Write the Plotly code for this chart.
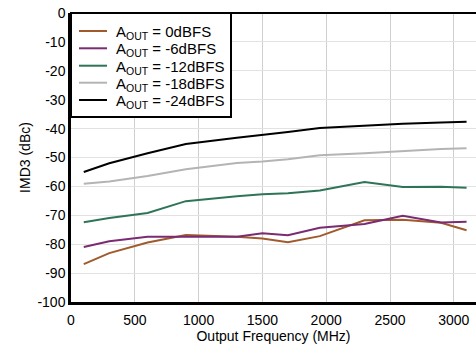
import plotly.graph_objects as go

freq_mhz = [100, 300, 600, 900, 1300, 1500, 1700, 1950, 2300, 2600, 2900, 3100]

series_names = [
    "A<sub>OUT</sub> = 0dBFS",
    "A<sub>OUT</sub> = -6dBFS",
    "A<sub>OUT</sub> = -12dBFS",
    "A<sub>OUT</sub> = -18dBFS",
    "A<sub>OUT</sub> = -24dBFS",
]
imd3_0dbfs = [-86.9, -83.1, -79.4, -76.8, -77.4, -78.0, -79.3, -77.2, -71.7, -71.5, -72.6, -75.2]
imd3_m6dbfs = [-81.0, -79.0, -77.4, -77.3, -77.4, -76.2, -76.9, -74.3, -73.0, -70.2, -72.5, -72.2]
imd3_m12dbfs = [-72.4, -70.9, -69.2, -65.1, -63.4, -62.7, -62.4, -61.4, -58.5, -60.2, -60.1, -60.5]
imd3_m18dbfs = [-59.1, -58.3, -56.4, -54.1, -51.9, -51.4, -50.6, -49.2, -48.5, -47.7, -47.1, -46.8]
imd3_m24dbfs = [-55.0, -52.0, -48.5, -45.3, -43.2, -42.3, -41.2, -39.8, -39.0, -38.3, -37.9, -37.6]

series_values = [imd3_0dbfs, imd3_m6dbfs, imd3_m12dbfs, imd3_m18dbfs, imd3_m24dbfs]
colors = ["#a05a2c", "#7a2b72", "#2f7458", "#b4b4b4", "#000000"]

x_ticks = [0, 500, 1000, 1500, 2000, 2500, 3000]
y_ticks = [0, -10, -20, -30, -40, -50, -60, -70, -80, -90, -100]

fig = go.Figure()
for name, vals, col in zip(series_names, series_values, colors):
    fig.add_trace(go.Scatter(x=freq_mhz, y=vals, mode="lines", name=name,
                             line=dict(color=col, width=2), showlegend=False))

font = "Liberation Sans, Arial, sans-serif"
fig.update_layout(
    width=476, height=348,
    margin=dict(l=71, r=0, t=13, b=46, autoexpand=False),
    paper_bgcolor="white", plot_bgcolor="white",
    font=dict(family=font, size=14, color="black"),
    showlegend=False,
    xaxis=dict(range=[0, 3174], tickvals=x_ticks, ticktext=[str(v) for v in x_ticks],
               showgrid=True, gridcolor="#cfcfcf", gridwidth=1,
               showline=True, linecolor="black", linewidth=2.5, mirror=False,
               ticks="", zeroline=False, automargin=False, ticklabelstandoff=3,
               title=dict(text="Output Frequency (MHz)", standoff=4, font=dict(size=14)),
               tickfont=dict(size=14)),
    yaxis=dict(range=[-100, 0], tickvals=y_ticks, ticktext=[str(v) for v in y_ticks],
               showgrid=True, gridcolor="#e2e2e2", gridwidth=1,
               showline=True, linecolor="black", linewidth=2.5,
               ticks="", zeroline=False, automargin=False,
               title=dict(text="IMD3 (dBc)", standoff=4, font=dict(size=14)),
               tickfont=dict(size=14)),
)
# top frame line
fig.add_shape(type="line", xref="paper", yref="paper", x0=0, x1=1, y0=1, y1=1,
              line=dict(color="black", width=2))

# Legend box (drawn in paper coordinates)
plot_w, plot_h = 405.0, 289.0
box_right = 160 / plot_w
box_bottom = 1 - 104 / plot_h
fig.add_shape(type="rect", xref="paper", yref="paper", x0=0, x1=box_right,
              y0=box_bottom, y1=1, line=dict(color="black", width=2),
              fillcolor="white", layer="above")
row_px = [18.0, 35.3, 52.7, 69.7, 87.0]
for name, col, ry in zip(series_names, colors, row_px):
    yp = 1 - ry / plot_h
    fig.add_shape(type="line", xref="paper", yref="paper", x0=8 / plot_w, x1=36 / plot_w,
                  y0=yp, y1=yp, line=dict(color=col, width=2), layer="above")
    fig.add_annotation(xref="paper", yref="paper", x=43 / plot_w, y=yp - 1.5 / plot_h,
                       text=name, showarrow=False, xanchor="left", yanchor="middle",
                       font=dict(size=15, color="black"))

fig.write_html("out.html", config={"displayModeBar": False},
               post_script="document.body.style.margin='0';document.body.style.overflow='hidden';")
